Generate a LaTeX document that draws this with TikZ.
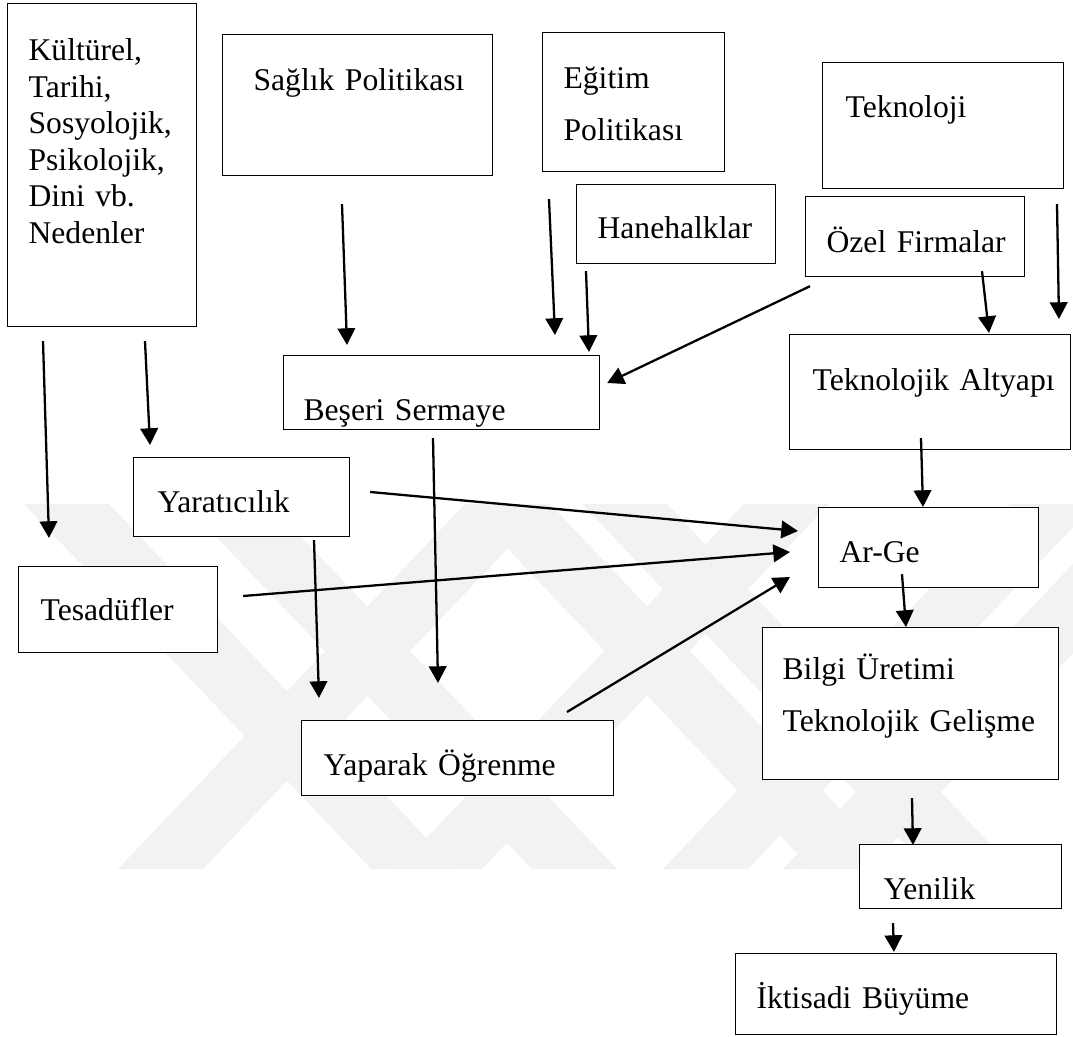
\documentclass[tikz,border=0pt]{standalone}
\usepackage{fontspec}
\setmainfont{Liberation Serif}
\usetikzlibrary{arrows.meta}
\usetikzlibrary{calc}
\hyphenpenalty=10000
\exhyphenpenalty=10000

\begin{document}
\begin{tikzpicture}[
            x = 0.02cm, y = -0.02cm, % one unit = one pixel, y runs down
            > = {Triangle[length=9.5pt, width=10pt]}, % arrow head style
            box/.style = {draw, line width=0.7pt, fill=white, rectangle,
                anchor=north west, align=left, inner ysep=0pt,
                font=\fontsize{18}{20.8}\selectfont},
            wide/.style = {font=\fontsize{18}{29.5}\selectfont},
            link/.style = {->, line width=1.3pt},
            band/.style = {fill=black!5, draw=none}
        ]

        \useasboundingbox (0,0) rectangle (1073,1037);

        % watermark in the background
        \begin{scope}
            \clip (0,0) rectangle (1073,1037);
            \foreach \t in {24,185,465,582}
                \fill[band] (\t,504) -- ++(85,0) -- ++(347,365) -- ++(-85,0) -- cycle;
            \foreach \t in {465,744,1010,1130}
                \fill[band] (\t,504) -- ++(85,0) -- ++(-347,365) -- ++(-85,0) -- cycle;
        \end{scope}

        % top row
        \node[box, inner xsep=0.42cm, text width=2.94cm, text height=1.14cm, text depth=5.32cm] (kul) at (7,3)
            {Kültürel,\\Tarihi,\\Sosyolojik,\\Psikolojik,\\Dini vb.\\Nedenler};
        \node[box, inner xsep=0.62cm, text width=4.16cm, text height=1.12cm, text depth=1.70cm] (sag) at (222,34)
            {\mbox{Sağlık Politikası}};
        \node[box, wide, inner xsep=0.42cm, text width=2.80cm, text height=1.12cm, text depth=1.66cm] (egi) at (542,32)
            {Eğitim\\Politikası};
        \node[box, inner xsep=0.46cm, text width=3.90cm, text height=1.10cm, text depth=1.42cm] (tek) at (822,62)
            {Teknoloji};
        \node[box, inner xsep=0.42cm, text width=3.14cm, text height=1.08cm, text depth=0.50cm] (hane) at (576,184)
            {Hanehalklar};
        \node[box, inner xsep=0.42cm, text width=3.54cm, text height=1.12cm, text depth=0.48cm] (oze) at (805,196)
            {\mbox{Özel Firmalar}};

        % middle
        \node[box, inner xsep=0.40cm, text width=5.52cm, text height=1.30cm, text depth=0.18cm] (bes) at (283,355)
            {\mbox{Beşeri Sermaye}};
        \node[box, inner xsep=0.46cm, text width=4.70cm, text height=1.12cm, text depth=1.18cm] (ta) at (789,334)
            {\mbox{Teknolojik Altyapı}};
        \node[box, inner xsep=0.48cm, text width=3.36cm, text height=1.10cm, text depth=0.48cm] (yar) at (133,457)
            {Yaratıcılık};
        \node[box, inner xsep=0.42cm, text width=3.56cm, text height=1.10cm, text depth=0.50cm] (arg) at (818,507)
            {\mbox{Ar-Ge}};
        \node[box, inner xsep=0.44cm, text width=3.10cm, text height=1.08cm, text depth=0.64cm] (tes) at (18,566)
            {Tesadüfler};
        \node[box, wide, inner xsep=0.40cm, text width=5.12cm, text height=1.04cm, text depth=2.00cm] (bil) at (762,627)
            {\mbox{Bilgi Üretimi}\\\mbox{Teknolojik Gelişme}};
        \node[box, inner xsep=0.44cm, text width=5.36cm, text height=1.10cm, text depth=0.40cm] (yap) at (301,720)
            {\mbox{Yaparak Öğrenme}};

        % bottom
        \node[box, inner xsep=0.48cm, text width=3.08cm, text height=1.10cm, text depth=0.18cm] (yen) at (859,844)
            {Yenilik};
        \node[box, inner xsep=0.42cm, text width=5.58cm, text height=1.10cm, text depth=0.52cm] (ikt) at (735,953)
            {\mbox{İktisadi Büyüme}};

        % arrows
        \draw[link] ($(kul.south west)+(36,14)$) -- ($(tes.north west)+(31,-28)$);
        \draw[link] ($(kul.south west)+(138,14)$) -- ($(yar.north west)+(17,-12)$);
        \draw[link] ($(sag.south west)+(120,28)$) -- ($(bes.north west)+(64,-10)$);
        \draw[link] ($(egi.south west)+(7,27)$) -- ($(bes.north west)+(272,-20)$);
        \draw[link] ($(hane.south west)+(10,7)$) -- ($(bes.north west)+(306,-3)$);
        \draw[link] ($(oze.south west)+(5,9)$) -- ($(bes.north east)+(7,28)$);
        \draw[link] ($(oze.south west)+(177,-6)$) -- ($(ta.north west)+(200,-1)$);
        \draw[link] ($(tek.south west)+(235,15)$) -- ($(ta.north west)+(270,-15)$);
        \draw[link] ($(bes.south west)+(150,8)$) -- ($(yap.north west)+(137,-37)$);
        \draw[link] ($(yar.south west)+(181,3)$) -- ($(yap.north west)+(18,-22)$);
        \draw[link] ($(yar.north east)+(20,35)$) -- ($(arg.north west)+(-20,24)$);
        \draw[link] ($(tes.north east)+(25,30)$) -- ($(arg.north west)+(-28,45)$);
        \draw[link] ($(yap.north west)+(266,-8)$) -- ($(arg.north west)+(-28,70)$);
        \draw[link] ($(ta.south west)+(132,-12)$) -- ($(arg.north west)+(105,0)$);
        \draw[link] ($(arg.south west)+(84,-14)$) -- ($(bil.north west)+(144,0)$);
        \draw[link] ($(bil.south west)+(150,18)$) -- ($(yen.north west)+(54,1)$);
        \draw[link] ($(yen.south west)+(34,14)$) -- ($(ikt.north west)+(159,-1)$);

\end{tikzpicture}
\end{document}
